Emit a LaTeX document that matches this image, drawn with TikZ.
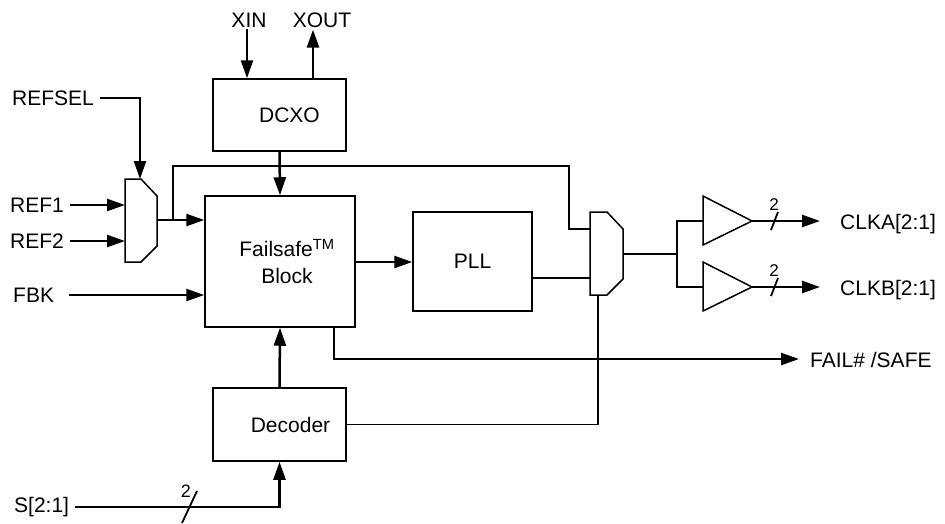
\documentclass[tikz,border=0pt]{standalone}
\usepackage{fontspec}
\setmainfont{Liberation Sans}
\usetikzlibrary{arrows.meta,positioning,calc}

\tikzset{
    blk/.style={draw, line width=1.5pt, fill=white, inner sep=0pt},
    sig/.style={inner xsep=6pt, inner ysep=2pt},
    wire/.style={line width=1.5pt},
    arr/.style={line width=2.5pt, -{Triangle[length=18pt,width=12pt]}},
    bus/.style={line width=1.8pt},
}

\begin{document}
\begin{tikzpicture}[x=1pt,y=-1pt,font=\fontsize{21}{27}\selectfont]
    \useasboundingbox (0,0) rectangle (945,523);

    % Blocks
    \node[blk, minimum width=133pt, minimum height=72pt] (dcxo) at (279.5,115) {\hspace{20pt}DCXO};
    \node[blk, minimum width=150pt, minimum height=131pt, align=center] (fs) at (280,261.5)
        {\hspace*{14pt}Failsafe\textsuperscript{TM}\\\hspace*{14pt}Block};
    \node[blk, minimum width=119pt, minimum height=99pt] (pll) at (472.5,261.5) {PLL};
    \node[blk, minimum width=133pt, minimum height=73pt] (dec) at (279.5,424.5) {\hspace{22pt}Decoder};

    % Input mux
    \draw[wire] (125,179) -- (141,179) -- (157,196) -- (157,246) -- (141,262) -- (125,262) -- cycle;
    \coordinate (m1sel) at (140,179);
    \coordinate (m1a) at (125,205);
    \coordinate (m1b) at (125,241);
    \coordinate (m1out) at (157,220);
    \coordinate (tap) at (173,220);

    % Output mux
    \draw[wire] (590,212) -- (607,212) -- (623,229) -- (623,279) -- (607,295) -- (590,295) -- cycle;
    \coordinate (m2a) at (590,229);
    \coordinate (m2b) at (590,278);
    \coordinate (m2sel) at (598,295);
    \coordinate (m2out) at (623,254);

    % Buffers
    \draw[wire] (703,196) -- (752,221) -- (703,245) -- cycle;
    \draw[wire] (703,262) -- (752,287) -- (703,311) -- cycle;
    \coordinate (bufa) at (703,221);
    \coordinate (bufb) at (703,287);
    \coordinate (outa) at (752,221);
    \coordinate (outb) at (752,287);
    \coordinate (fork) at (677,254);

    % Pin labels
    \node[sig] (xin) at (249,20) {XIN};
    \node[sig] (xout) at (322,20) {XOUT};
    \node[sig, anchor=west] (refsel) at (6,98) {REFSEL};
    \node[sig, anchor=west] (ref1) at (4,205) {REF1};
    \node[sig, anchor=west] (ref2) at (4,241) {REF2};
    \node[sig, anchor=west] (fbk) at (7,295) {FBK};
    \node[sig, anchor=west] (sel) at (8,507) {S[2:1]};
    \node[sig, anchor=west] (clka) at (834,224) {CLKA[2:1]};
    \node[sig, anchor=west] (clkb) at (834,290) {CLKB[2:1]};
    \node[sig, anchor=west] (fail) at (804,360) {FAIL\# /SAFE};

    % Crystal
    \draw[arr] ([xshift=-32.5pt]dcxo.north |- xin.south) -- ([xshift=-32.5pt]dcxo.north);
    \draw[arr] ([xshift=33.5pt]dcxo.north) -- ([xshift=33.5pt]dcxo.north |- xout.south);
    \draw[arr] (dcxo.south) -- (fs.north);

    % Reference inputs
    \draw[arr] (refsel.east) -| (m1sel);
    \draw[arr] (ref1.east) -- (m1a);
    \draw[arr] (ref2.east) -- (m1b);
    \draw[arr] (m1out) -- (m1out -| fs.west);
    \draw[arr, shorten <=9pt] (fbk.east) -- (fbk.east -| fs.west);
    \draw[wire] (tap) |- (569,166) |- (m2a);

    % PLL path
    \draw[arr] (fs.east |- 0,262) -- (pll.west |- 0,262);
    \draw[wire] (pll.east |- m2b) -- (m2b);
    \draw[wire] (m2out) -- (fork);
    \draw[wire] (bufa) -| (fork) |- (bufb);
    \draw[arr, shorten >=14pt] (outa) -- (clka.west |- outa);
    \draw[arr, shorten >=14pt] (outb) -- (clkb.west |- outb);

    % Status and select
    \draw[arr, shorten >=5pt] ([xshift=54pt]fs.south) |- (fail.west |- 0,359);
    \draw[arr] (dec.north) -- (fs.south);
    \draw[wire] (dec.east) -| (m2sel);
    \draw[arr] (sel.east) -| (dec.south);

    % Bus widths
    \draw[bus] (182,523) -- (197,491);
    \node[font=\fontsize{18}{18}\selectfont, inner sep=0pt] (wsel) at (186,491) {2};
    \draw[bus] (771,230) -- (778,212);
    \node[font=\fontsize{17}{17}\selectfont, inner sep=0pt] (wa) at (774,205) {2};
    \draw[bus] (771,296) -- (778,278);
    \node[font=\fontsize{17}{17}\selectfont, inner sep=0pt] (wb) at (774,271) {2};
\end{tikzpicture}
\end{document}
